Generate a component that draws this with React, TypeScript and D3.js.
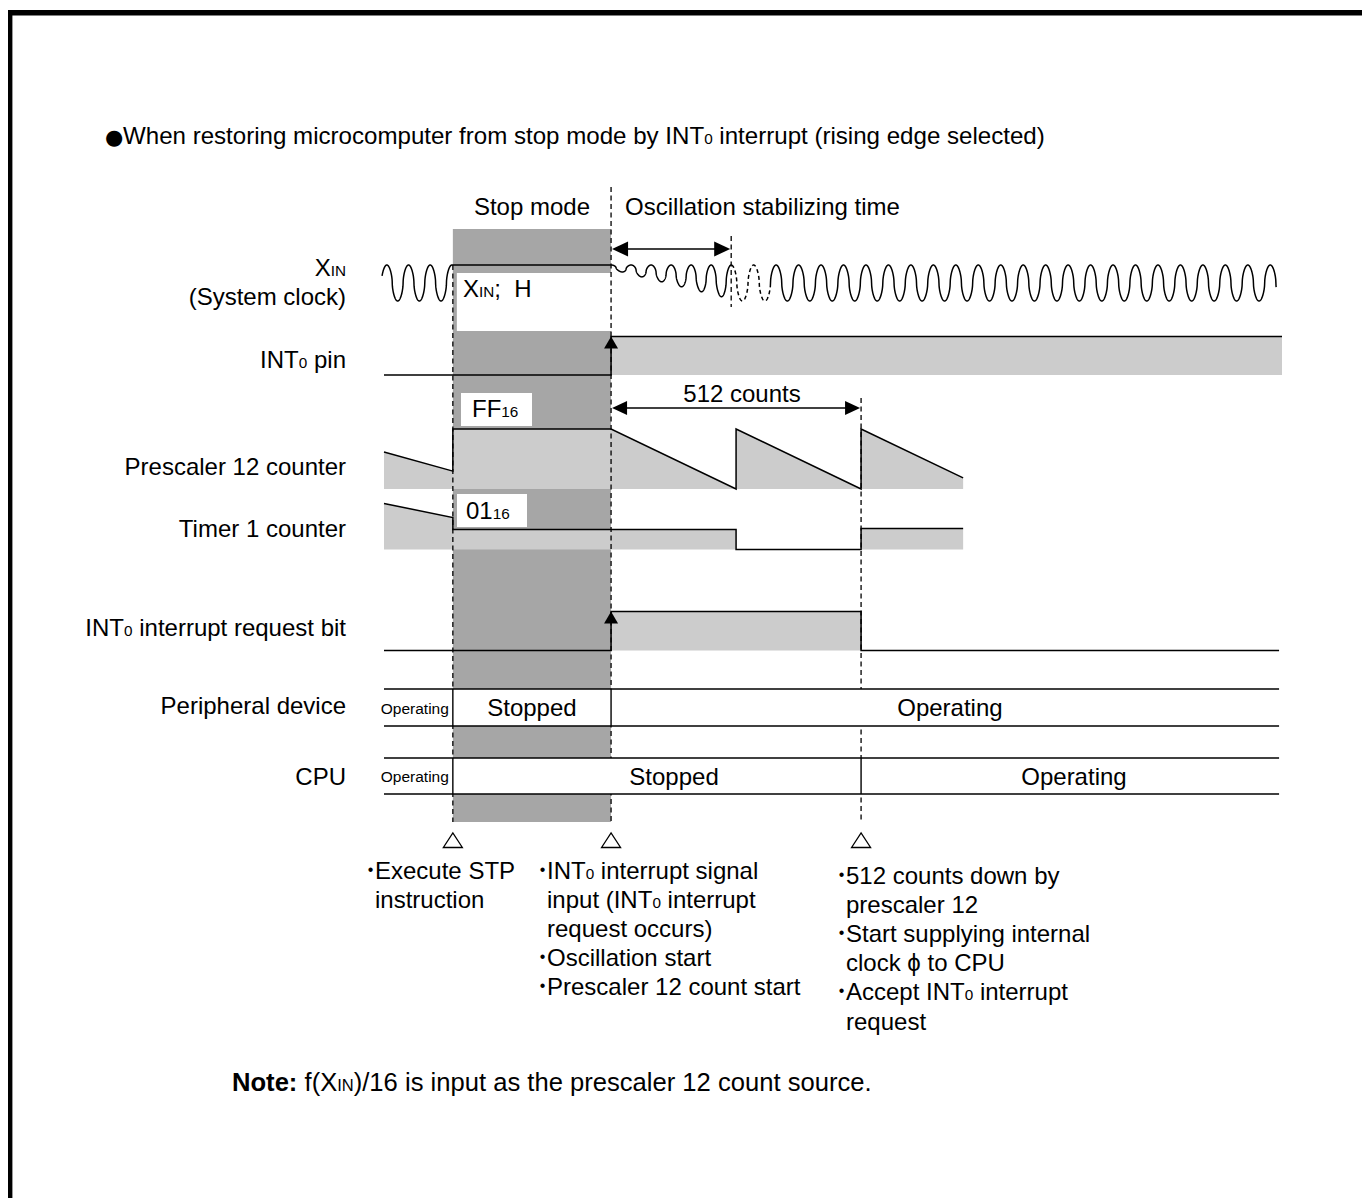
import React from "react";
import * as d3 from "d3";

const W = 1362;
const H = 1198;

// Time axis measured in prescaler-12 counts, 0 = INT0 rising edge
const timeDomain = [-465, 1374];
const eventTimes = [-324, 0, 246, 512]; // STP, INT0 edge, oscillation stable, 512 counts done

const prescalerTimes = [-465, -324, -324, 0, 256, 256, 512, 512, 721];
const prescalerValues = [157, 76, 255, 255, 0, 255, 0, 255, 47];

const timerTimes = [-465, -324, -324, 256, 256, 512, 512, 721];
const timerValues = [2.3, 1.6, 1, 1, 0, 0, 1.05, 1.05];

const int0PinTimes = [-465, 0, 0, 1374];
const int0PinValues = [0, 0, 1, 1];

const int0ReqTimes = [-465, 0, 0, 512, 512, 1368];
const int0ReqValues = [0, 0, 1, 1, 0, 0];

// XIN clock waveform segments
const xinSegStart = [-469, -326, 0, 246, 326];
const xinSegEnd = [-326, 0, 246, 326, 1362];
const xinSegKind = ["wave", "flat", "grow", "wave", "wave"];
const xinSegPeriod = [44.4, 0, 41, 46, 46];
const xinSegPeak = [-326, 0, 0, 246, 246];
const xinSegDashed = [false, false, false, true, false];
const xinGrowAmp = [0.12, 0.95];

// status rows
const periphBounds = [-465, -324, 0, 1368];
const periphLabels = ["Operating", "Stopped", "Operating"];
const periphLabelAt = [null, -162, 694];
const cpuBounds = [-465, -324, 512, 1368];
const cpuLabels = ["Operating", "Stopped", "Operating"];
const cpuLabelAt = [null, 129, 948];

const rowLabels = [
  "X_{IN}",
  "(System clock)",
  "INT_{0} pin",
  "Prescaler 12 counter",
  "Timer 1 counter",
  "INT_{0} interrupt request bit",
  "Peripheral device",
  "CPU",
];
const rowLabelBaselines = [276, 305, 368, 475, 537, 636, 714, 785];

const stpNotes = [
  { b: true, t: "Execute STP" },
  { b: false, t: "instruction" },
];
const int0Notes = [
  { b: true, t: "INT_{0} interrupt signal" },
  { b: false, t: "input (INT_{0} interrupt" },
  { b: false, t: "request occurs)" },
  { b: true, t: "Oscillation start" },
  { b: true, t: "Prescaler 12 count start" },
];
const resumeNotes = [
  { b: true, t: "512 counts down by" },
  { b: false, t: "prescaler 12" },
  { b: true, t: "Start supplying internal" },
  { b: false, t: "clock \u03D5 to CPU" },
  { b: true, t: "Accept INT_{0} interrupt" },
  { b: false, t: "request" },
];

const FONT = "'Liberation Sans', Arial, Helvetica, sans-serif";
const FS = 24;
const SUB = 15.3;
const DARK = "#a6a6a6";
const LIGHT = "#cccccc";

function Rich(props: any) {
  const { text, x, y, size = FS, sub = SUB, anchor = "start", weight = "normal" } = props;
  const parts = String(text).split(/_\{([^}]*)\}/);
  return (
    <text x={x} y={y} fontSize={size} textAnchor={anchor} fontWeight={weight} fontFamily={FONT} fill="#000">
      {parts.map((p, i) =>
        i % 2 === 1 ? (
          <tspan key={i} fontSize={sub}>
            {p}
          </tspan>
        ) : (
          <tspan key={i}>{p}</tspan>
        )
      )}
    </text>
  );
}

function headPoints(tx: number, ty: number, dir: string, len: number, hw: number) {
  if (dir === "left") return `${tx},${ty} ${tx + len},${ty - hw} ${tx + len},${ty + hw}`;
  if (dir === "right") return `${tx},${ty} ${tx - len},${ty - hw} ${tx - len},${ty + hw}`;
  return `${tx},${ty} ${tx - hw},${ty + len} ${tx + hw},${ty + len}`; // up
}

// rounded square-ish clock shape (semi-elliptic humps)
function clockShape(phase: number) {
  const c = Math.cos(phase);
  return Math.sign(c) * Math.pow(Math.abs(c), 0.55);
}

export default function App() {
  const x = d3.scaleLinear().domain(timeDomain).range([384, 1282]);
  const [tStp, tInt, tOsc, tRes] = eventTimes;

  const yXin = d3.scaleLinear().domain([0, 1]).range([301, 265]);
  const yPin = d3.scaleLinear().domain([0, 1]).range([375, 336.5]);
  const yPre = d3.scaleLinear().domain([0, 255]).range([489, 429]);
  const yTim = d3.scaleLinear().domain([0, 3]).range([549.5, 489.5]);
  const yReq = d3.scaleLinear().domain([0, 1]).range([650.5, 611.5]);

  const zip = (ts: number[], vs: number[]) => ts.map((t, i) => [t, vs[i]] as [number, number]);

  const stepLine = (ys: any) =>
    d3
      .line<[number, number]>()
      .x((d) => x(d[0]))
      .y((d) => ys(d[1]));
  const stepArea = (ys: any) =>
    d3
      .area<[number, number]>()
      .x((d) => x(d[0]))
      .y0(ys(0))
      .y1((d) => ys(d[1]));

  const pin = zip(int0PinTimes, int0PinValues);
  const pre = zip(prescalerTimes, prescalerValues);
  const tim = zip(timerTimes, timerValues);
  const req = zip(int0ReqTimes, int0ReqValues);

  // XIN waveform
  const segPts = (i: number) => {
    const pts: [number, number][] = [];
    const s = xinSegStart[i];
    const e = xinSegEnd[i];
    const step = 0.25;
    for (let t = s; t <= e + 1e-9; t += step) {
      let v = 1;
      const kind = xinSegKind[i];
      const ph = (2 * Math.PI * (t - xinSegPeak[i])) / (xinSegPeriod[i] || 1);
      if (kind === "wave") {
        v = (1 + clockShape(ph)) / 2;
      } else if (kind === "grow") {
        const a = xinGrowAmp[0] + ((xinGrowAmp[1] - xinGrowAmp[0]) * (t - s)) / (e - s);
        v = 1 - (a * (1 - clockShape(ph))) / 2;
      }
      pts.push([t, v]);
    }
    return pts;
  };
  const xinLine = d3
    .line<[number, number]>()
    .x((d) => x(d[0]))
    .y((d) => yXin(d[1]));
  const xinPaths: { d: string; dashed: boolean }[] = [];
  let cur: [number, number][] = [];
  let curDash = xinSegDashed[0];
  xinSegStart.forEach((_, i) => {
    if (xinSegDashed[i] !== curDash) {
      xinPaths.push({ d: xinLine(cur) || "", dashed: curDash });
      cur = [];
      curDash = xinSegDashed[i];
    }
    cur = cur.concat(segPts(i));
  });
  xinPaths.push({ d: xinLine(cur) || "", dashed: curDash });

  const rowLeft = x(-465);
  const rowRight = x(1368);

  const statusRow = (bounds: number[], labels: string[], labelAt: any[], yTop: number, yBot: number, key: string) => {
    const mid = (yTop + yBot) / 2;
    return (
      <g key={key}>
        <rect x={rowLeft} y={yTop} width={rowRight - rowLeft} height={yBot - yTop} fill="#fff" />
        <line x1={rowLeft} x2={rowRight} y1={yTop} y2={yTop} stroke="#000" strokeWidth={1.4} />
        <line x1={rowLeft} x2={rowRight} y1={yBot} y2={yBot} stroke="#000" strokeWidth={1.4} />
        {bounds.slice(1, -1).map((b, i) => (
          <line key={i} x1={x(b)} x2={x(b)} y1={yTop} y2={yBot} stroke="#000" strokeWidth={1.4} />
        ))}
        {labels.map((l, i) =>
          labelAt[i] === null ? (
            <text key={i} x={x(bounds[i + 1]) - 4} y={mid + 6} fontSize={15.5} textAnchor="end" fontFamily={FONT}>
              {l}
            </text>
          ) : (
            <text key={i} x={x(labelAt[i])} y={mid + 8.5} fontSize={FS} textAnchor="middle" fontFamily={FONT}>
              {l}
            </text>
          )
        )}
      </g>
    );
  };

  const noteBlock = (notes: any[], tx: number, y0: number, dy: number, key: string) => (
    <g key={key}>
      {notes.map((n, i) => (
        <g key={i}>
          {n.b && (
            <text x={tx - 4.5} y={y0 + i * dy - 4} fontSize={16} textAnchor="middle" fontFamily={FONT}>
              {"\u2022"}
            </text>
          )}
          <Rich text={n.t} x={tx} y={y0 + i * dy} />
        </g>
      ))}
    </g>
  );

  const dash = "5,3.5";

  return (
    <div style={{ position: "absolute", left: 0, top: 0, width: W, height: H, background: "#fff" }}>
      <svg width={W} height={H} viewBox={`0 0 ${W} ${H}`} style={{ display: "block" }}>
        <rect x={0} y={0} width={W} height={H} fill="#fff" />
        {/* frame */}
        <rect x={8} y={10} width={4.4} height={H - 10} fill="#000" />
        <rect x={8} y={10} width={W - 8} height={5.5} fill="#000" />

        {/* title */}
        <text x={105} y={144} fontSize={21} fontFamily="'DejaVu Sans', sans-serif">
          {"\u25CF"}
        </text>
        <Rich
          text={"When restoring microcomputer from stop mode by INT_{0} interrupt (rising edge selected)"}
          x={123}
          y={144}
          size={24.1}
        />

        {/* stop mode band */}
        <rect x={x(tStp)} y={229} width={x(tInt) - x(tStp)} height={822 - 229} fill={DARK} />
        <rect x={x(tStp) + 4} y={273} width={x(tInt) - x(tStp) - 4} height={58} fill="#fff" />

        {/* fills */}
        <path d={stepArea(yPin)(pin) || ""} fill={LIGHT} />
        <path d={stepArea(yPre)(pre) || ""} fill={LIGHT} />
        <path d={stepArea(yTim)(tim) || ""} fill={LIGHT} />
        <path d={stepArea(yReq)(req) || ""} fill={LIGHT} />

        {/* value boxes */}
        <rect x={461} y={393} width={71} height={33} fill="#fff" />
        <rect x={457} y={494} width={70} height={33} fill="#fff" />
        <Rich text={"X_{IN};\u00A0 H"} x={463} y={297} />
        <Rich text={"FF_{16}"} x={472} y={417} />
        <Rich text={"01_{16}"} x={466} y={519} />

        {/* dashed event lines */}
        <line x1={x(tStp)} x2={x(tStp)} y1={265} y2={822} stroke="#000" strokeWidth={1.3} strokeDasharray={dash} />
        <line x1={x(tInt)} x2={x(tInt)} y1={187} y2={822} stroke="#000" strokeWidth={1.3} strokeDasharray={dash} />
        <line x1={x(tOsc)} x2={x(tOsc)} y1={236} y2={307} stroke="#000" strokeWidth={1.3} strokeDasharray={dash} />
        <line x1={x(tRes)} x2={x(tRes)} y1={398} y2={822} stroke="#000" strokeWidth={1.3} strokeDasharray={dash} />

        {/* signal lines */}
        {xinPaths.map((p, i) => (
          <path
            key={i}
            d={p.d}
            fill="none"
            stroke="#000"
            strokeWidth={1.5}
            strokeLinejoin="round"
            strokeDasharray={p.dashed ? "4,3" : undefined}
          />
        ))}
        <path d={stepLine(yPin)(pin) || ""} fill="none" stroke="#000" strokeWidth={1.5} />
        <path d={stepLine(yPre)(pre) || ""} fill="none" stroke="#000" strokeWidth={1.5} />
        <path d={stepLine(yTim)(tim) || ""} fill="none" stroke="#000" strokeWidth={1.5} />
        <path d={stepLine(yReq)(req) || ""} fill="none" stroke="#000" strokeWidth={1.5} />

        {/* rising edge arrows */}
        <polygon points={headPoints(x(tInt), yPin(1), "up", 12, 7)} fill="#000" />
        <polygon points={headPoints(x(tInt), yReq(1), "up", 12, 7)} fill="#000" />

        {/* oscillation stabilizing arrow */}
        <line x1={x(tInt) + 4} x2={x(tOsc) - 4} y1={249} y2={249} stroke="#000" strokeWidth={1.6} />
        <polygon points={headPoints(x(tInt) + 1, 249, "left", 16, 7.5)} fill="#000" />
        <polygon points={headPoints(x(tOsc) - 1, 249, "right", 16, 7.5)} fill="#000" />

        {/* 512 counts arrow */}
        <line x1={x(tInt) + 4} x2={x(tRes) - 4} y1={408} y2={408} stroke="#000" strokeWidth={1.6} />
        <polygon points={headPoints(x(tInt) + 1, 408, "left", 15, 7)} fill="#000" />
        <polygon points={headPoints(x(tRes) - 1, 408, "right", 15, 7)} fill="#000" />
        <text x={742} y={402} fontSize={FS} textAnchor="middle" fontFamily={FONT}>
          512 counts
        </text>

        {/* header labels */}
        <text x={(x(tStp) + x(tInt)) / 2} y={215} fontSize={FS} textAnchor="middle" fontFamily={FONT}>
          Stop mode
        </text>
        <text x={x(tInt) + 14} y={215} fontSize={FS} fontFamily={FONT}>
          Oscillation stabilizing time
        </text>

        {/* status rows */}
        {statusRow(periphBounds, periphLabels, periphLabelAt, 689, 726, "periph")}
        {statusRow(cpuBounds, cpuLabels, cpuLabelAt, 758, 794, "cpu")}

        {/* row labels */}
        {rowLabels.map((l, i) => (
          <Rich key={i} text={l} x={346} y={rowLabelBaselines[i]} anchor="end" />
        ))}

        {/* event markers */}
        {[tStp, tInt, tRes].map((t, i) => (
          <polygon
            key={i}
            points={`${x(t) - 9.5},847.5 ${x(t) + 9.5},847.5 ${x(t)},833`}
            fill="#fff"
            stroke="#000"
            strokeWidth={1.3}
          />
        ))}

        {/* notes */}
        {noteBlock(stpNotes, 375, 878.5, 29.2, "n1")}
        {noteBlock(int0Notes, 547, 878.5, 29.2, "n2")}
        {noteBlock(resumeNotes, 846, 883.5, 29.2, "n3")}

        {/* footnote */}
        <text x={232} y={1091} fontSize={25.6} fontFamily={FONT}>
          <tspan fontWeight="bold">Note:</tspan>
          <tspan>{" f(X"}</tspan>
          <tspan fontSize={16.5}>IN</tspan>
          <tspan>{")/16 is input as the prescaler 12 count source."}</tspan>
        </text>
      </svg>
    </div>
  );
}
